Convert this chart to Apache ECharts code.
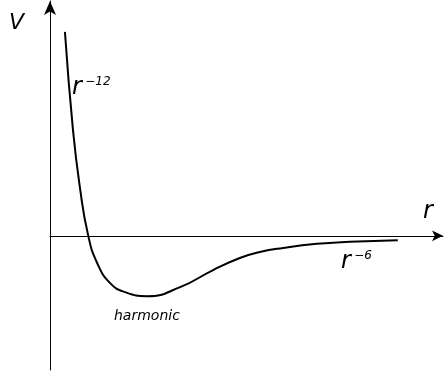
<!DOCTYPE html>
<html>
<head>
<meta charset="utf-8">
<script src="https://cdn.jsdelivr.net/npm/echarts@6/dist/echarts.min.js"></script>
<style>
html, body { margin: 0; padding: 0; background: #fff; }
#main { width: 444px; height: 375px; }
</style>
</head>
<body>
<div id="main"></div>
<script>
// potential curve (arbitrary units)
var rValues = [0.38, 0.585, 0.76, 0.97, 1.20, 1.53, 1.91, 2.47, 3.31, 4.15, 4.83, 5.34, 5.93, 6.79, 7.63, 8.85];
var vValues = [6.08, 3.15, 1.45, 0.02, -0.81, -1.41, -1.68, -1.80, -1.53, -1.02, -0.66, -0.48, -0.36, -0.24, -0.18, -0.13];

var font = '"DejaVu Sans", sans-serif';

var myChart = echarts.init(document.getElementById('main'));

var points = [];
for (var i = 0; i < rValues.length; i++) {
	points.push([rValues[i], vValues[i]]);
}

myChart.setOption({
	backgroundColor: '#fff',
	animation: false,
	grid: { left: 50, right: 1, top: 1, bottom: 5 },
	xAxis: {
		type: 'value',
		min: 0,
		max: 10,
		axisLine: {
			onZero: true,
			symbol: ['none', 'arrow'],
			symbolSize: [8, 11],
			lineStyle: { color: '#000', width: 1 }
		},
		axisTick: { show: false },
		axisLabel: { show: false },
		splitLine: { show: false }
	},
	yAxis: {
		type: 'value',
		min: -4,
		max: 7,
		axisLine: {
			show: true,
			onZero: false,
			symbol: ['none', 'arrow'],
			symbolSize: [9, 14],
			lineStyle: { color: '#000', width: 1 }
		},
		axisTick: { show: false },
		axisLabel: { show: false },
		splitLine: { show: false }
	},
	graphic: [
		{ type: 'text', left: 9, top: 12, style: { text: 'V', font: 'oblique 22px ' + font, fill: '#000' } },
		{ type: 'text', left: 423, top: 200, style: { text: 'r', font: 'oblique 24px ' + font, fill: '#000' } },
		{
			type: 'text', left: 72, top: 76,
			style: {
				text: '{b|r} {s|\u221212}',
				fill: '#000',
				rich: {
					b: { font: 'oblique 24px ' + font },
					s: { font: 'oblique 12px ' + font, verticalAlign: 'top', padding: [0, 0, 12, 0] }
				}
			}
		},
		{
			type: 'text', left: 341, top: 250,
			style: {
				text: '{b|r} {s|\u22126}',
				fill: '#000',
				rich: {
					b: { font: 'oblique 24px ' + font },
					s: { font: 'oblique 12px ' + font, verticalAlign: 'top', padding: [0, 0, 12, 0] }
				}
			}
		},
		{ type: 'text', left: 114, top: 309, style: { text: 'harmonic', font: 'oblique 14px ' + font, fill: '#000' } }
	],
	series: [{
		type: 'line',
		data: points,
		smooth: true,
		showSymbol: false,
		lineStyle: { color: '#000', width: 2 }
	}]
});
</script>
</body>
</html>
